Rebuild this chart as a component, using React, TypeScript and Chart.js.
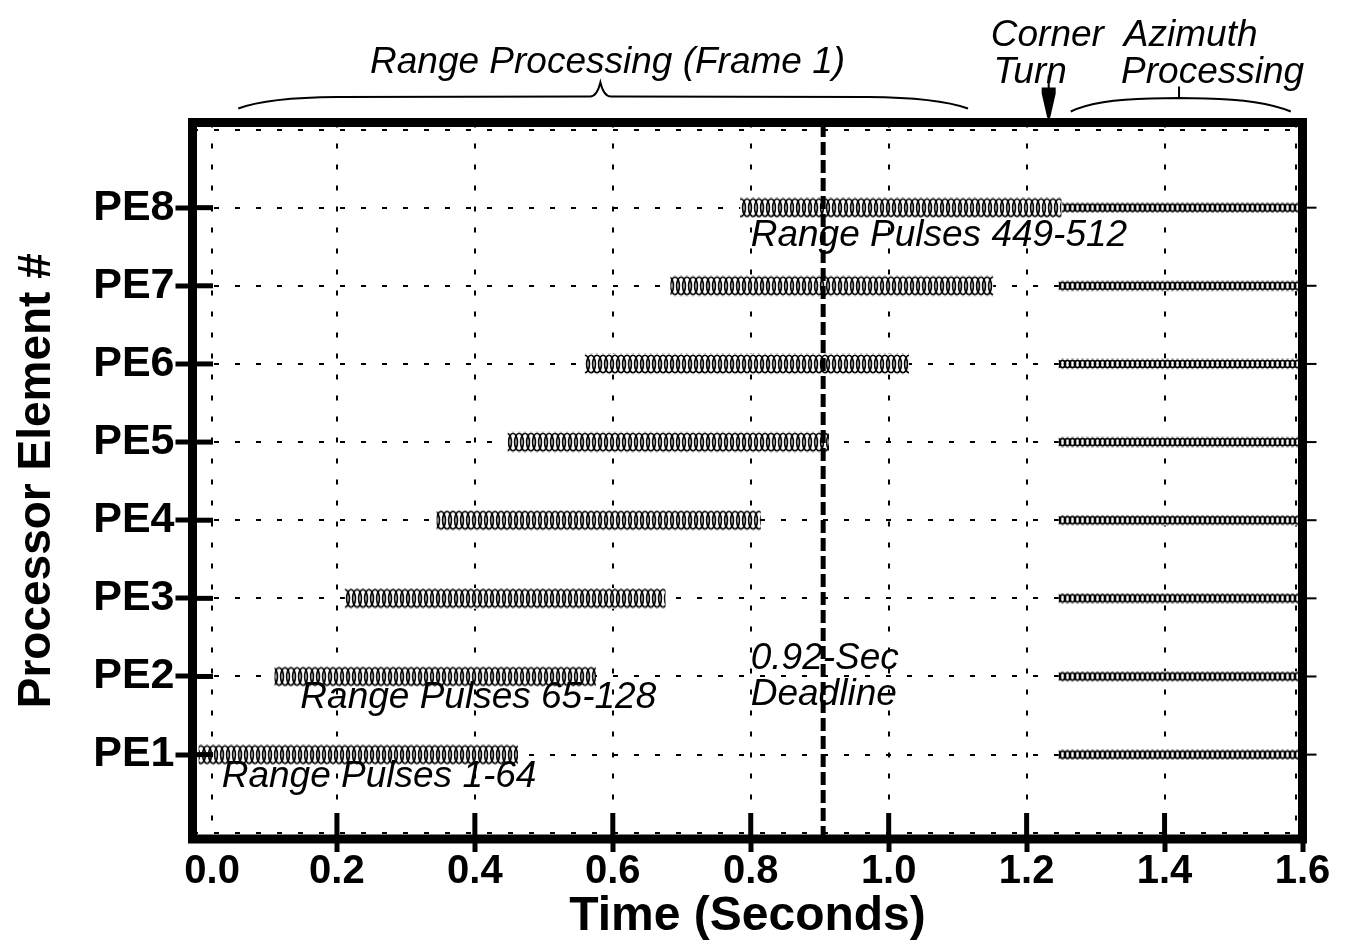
import React, { useEffect, useRef } from "react";
import { Chart, registerables } from "chart.js";

Chart.register(...registerables);

// ---------- data ----------
const PE_LABELS = ["PE1", "PE2", "PE3", "PE4", "PE5", "PE6", "PE7", "PE8"];
const PE_INDEX = [1, 2, 3, 4, 5, 6, 7, 8];
// range processing (pulses 1-64, 65-128, ... 449-512) start / end times (s)
const RANGE_START = [0.0, 0.11, 0.212, 0.345, 0.448, 0.56, 0.684, 0.785];
const RANGE_END = [0.462, 0.575, 0.676, 0.814, 0.913, 1.029, 1.151, 1.25];
// azimuth processing start / end times (s)
const AZ_START = [1.247, 1.247, 1.247, 1.247, 1.247, 1.247, 1.247, 1.252];
const AZ_END = [1.598, 1.598, 1.598, 1.598, 1.598, 1.598, 1.598, 1.598];
const DEADLINE = 0.905;

const X_MIN = -0.0094;
const X_MAX = 1.6;
const Y_MIN = -0.08;
const Y_MAX = 9.09;

const X_TICK_VALUES = [0.019, 0.2, 0.4, 0.6, 0.8, 1.0, 1.2, 1.4, 1.591, 1.6];
const X_TICK_LABELS = ["0.0", "0.2", "0.4", "0.6", "0.8", "1.0", "1.2", "1.4", "", "1.6"];
const X_TICK_MARK = [false, true, true, true, true, true, true, true, false, true];
const X_TICK_GRID = [true, true, true, true, true, true, true, true, true, false];

const Y_TICK_VALUES = [0, 1, 2, 3, 4, 5, 6, 7, 8, 9];
const Y_TICK_LABELS = ["", ...PE_LABELS, ""];
const Y_TICK_MARK = [false, true, true, true, true, true, true, true, true, false];

const FONT = "'Liberation Sans', Arial, Helvetica, sans-serif";
const ITALIC = `italic 37px ${FONT}`;

// ---------- patterns ----------
function makeRangeTile(): HTMLCanvasElement {
  const w = 18, h = 20;
  const c = document.createElement("canvas");
  c.width = w;
  c.height = h;
  const g = c.getContext("2d")!;
  g.fillStyle = "#fff";
  g.fillRect(0, 0, w, h);
  g.strokeStyle = "#000";
  g.lineWidth = 1.6;
  for (const cx of [3, 9, 15]) {
    for (const off of [-w, 0, w]) {
      g.beginPath();
      g.ellipse(cx + off, h / 2, 4.4, 8.8, 0, 0, Math.PI * 2);
      g.stroke();
    }
  }
  return c;
}

function makeAzTile(): HTMLCanvasElement {
  const w = 5, h = 10;
  const c = document.createElement("canvas");
  c.width = w;
  c.height = h;
  const g = c.getContext("2d")!;
  g.fillStyle = "#fff";
  g.fillRect(0, 0, w, h);
  g.strokeStyle = "#000";
  g.lineWidth = 1.9;
  for (const off of [-w, 0, w]) {
    g.beginPath();
    g.ellipse(2.5 + off, h / 2, 3, 3.6, 0, 0, Math.PI * 2);
    g.stroke();
  }
  return c;
}

const patternCache = new Map<string, CanvasPattern>();
function patternFor(ctx: any, kind: "range" | "az") {
  if (ctx.type !== "data" || !ctx.raw) return "#ffffff";
  const chart = ctx.chart;
  const yScale = chart.scales.y;
  const py = yScale.getPixelForValue(ctx.raw.y);
  const key = `${kind}-${ctx.dataIndex}-${Math.round(py * 10)}`;
  let p = patternCache.get(key);
  if (!p) {
    const tile = kind === "range" ? makeRangeTile() : makeAzTile();
    p = chart.ctx.createPattern(tile, "repeat")!;
    p.setTransform(new DOMMatrix([1, 0, 0, 1, 0, py - tile.height / 2]));
    patternCache.set(key, p);
  }
  return p;
}

// ---------- decoration plugin ----------
const decorPlugin = {
  id: "decor",
  afterDraw(chart: any) {
    const { ctx, chartArea } = chart;
    const { left, right, top, bottom } = chartArea;
    const xs = chart.scales.x;
    const ys = chart.scales.y;
    const px = (v: number) => xs.getPixelForValue(v);
    const py = (v: number) => ys.getPixelForValue(v);
    ctx.save();
    ctx.fillStyle = "#000";
    ctx.strokeStyle = "#000";

    // inner tick marks
    X_TICK_VALUES.forEach((v, i) => {
      if (X_TICK_MARK[i] && v < 1.59) ctx.fillRect(px(v) - 2.5, bottom - 26, 5, 26);
    });
    Y_TICK_VALUES.forEach((v, i) => {
      if (Y_TICK_MARK[i]) {
        ctx.fillRect(left, py(v) - 2.5, 20.5, 5);
        ctx.fillRect(right, py(v) - 1, 14, 2);
      }
    });

    // frame
    ctx.lineWidth = 9;
    ctx.lineJoin = "miter";
    ctx.strokeRect(left, top, right - left, bottom - top);

    // braces
    ctx.lineWidth = 2;
    ctx.beginPath();
    ctx.moveTo(px(0.057), top - 14);
    ctx.quadraticCurveTo(px(0.1), top - 25, px(0.2), top - 25.5);
    ctx.lineTo(px(0.567), top - 26);
    ctx.quadraticCurveTo(px(0.577), top - 26, px(0.582), top - 40);
    ctx.quadraticCurveTo(px(0.587), top - 26, px(0.597), top - 26);
    ctx.lineTo(px(0.97), top - 25.5);
    ctx.quadraticCurveTo(px(1.07), top - 25, px(1.115), top - 14);
    ctx.stroke();

    ctx.beginPath();
    ctx.moveTo(px(1.264), top - 11);
    ctx.quadraticCurveTo(px(1.3), top - 23, px(1.38), top - 24);
    ctx.lineTo(px(1.421), top - 24.5);
    ctx.lineTo(px(1.46), top - 24);
    ctx.quadraticCurveTo(px(1.54), top - 23, px(1.583), top - 11);
    ctx.stroke();
    ctx.beginPath();
    ctx.moveTo(px(1.421), top - 24.5);
    ctx.lineTo(px(1.421), top - 36);
    ctx.stroke();

    // corner turn arrow
    const ax = px(1.232);
    ctx.beginPath();
    ctx.moveTo(ax, top - 47);
    ctx.lineTo(ax, top - 4);
    ctx.stroke();
    ctx.beginPath();
    ctx.moveTo(ax - 7, top - 35);
    ctx.lineTo(ax + 7, top - 35);
    ctx.lineTo(ax + 7, top - 29);
    ctx.lineTo(ax + 1.5, top - 5);
    ctx.lineTo(ax - 1.5, top - 5);
    ctx.lineTo(ax - 7, top - 29);
    ctx.closePath();
    ctx.fill();

    // annotations
    ctx.font = ITALIC;
    ctx.textAlign = "left";
    ctx.textBaseline = "alphabetic";
    ctx.fillText("Range Processing (Frame 1)", px(0.248), top - 49.5);
    ctx.fillText("Corner", px(1.148), top - 76.5);
    ctx.fillText("Turn", px(1.152), top - 39.5);
    ctx.fillText("Azimuth", px(1.341), top - 76.5);
    ctx.fillText("Processing", px(1.337), top - 39.5);

    ctx.fillText("Range Pulses 449-512", px(0.8), py(7.51));
    ctx.fillText("Range Pulses 65-128", px(0.147), py(1.6));
    ctx.fillText("Range Pulses 1-64", px(0.033), py(0.59));
    ctx.fillText("0.92-Sec", px(0.8), py(2.09));
    ctx.fillText("Deadline", px(0.8), py(1.64));
    ctx.restore();
  },
};

export default function App() {
  const ref = useRef<HTMLCanvasElement | null>(null);

  useEffect(() => {
    document.body.style.margin = "0";
    if (!ref.current) return;

    const rangeData = PE_INDEX.map((y, i) => ({ x: [RANGE_START[i], RANGE_END[i]], y }));
    const azData = PE_INDEX.map((y, i) => ({ x: [AZ_START[i], AZ_END[i]], y }));

    const chart = new Chart(ref.current, {
      type: "bar",
      data: {
        datasets: [
          {
            type: "line",
            data: [
              { x: DEADLINE, y: Y_MIN },
              { x: DEADLINE, y: Y_MAX },
            ],
            borderColor: "#000",
            borderWidth: 5,
            borderDash: [13, 5],
            borderCapStyle: "butt",
            pointRadius: 0,
            fill: false,
            order: 0,
          } as any,
          {
            type: "bar",
            data: rangeData as any,
            barThickness: 20,
            grouped: false,
            borderWidth: 0,
            backgroundColor: (c: any) => patternFor(c, "range"),
            order: 2,
          } as any,
          {
            type: "bar",
            data: azData as any,
            barThickness: 10,
            grouped: false,
            borderWidth: 0,
            backgroundColor: (c: any) => patternFor(c, "az"),
            order: 2,
          } as any,
        ],
      },
      options: {
        responsive: false,
        animation: false,
        indexAxis: "y",
        layout: { padding: { left: 0, top: 122.5, right: 43.5, bottom: 0 } },
        plugins: {
          legend: { display: false },
          tooltip: { enabled: false },
        },
        events: [],
        scales: {
          x: {
            type: "linear",
            position: "bottom",
            min: X_MIN,
            max: X_MAX,
            offset: false,
            afterFit: (s: any) => {
              s.height = 105;
            },
            afterBuildTicks: (s: any) => {
              s.ticks = X_TICK_VALUES.map((v) => ({ value: v }));
            },
            ticks: {
              autoSkip: false,
              maxRotation: 0,
              minRotation: 0,
              padding: 0,
              color: "#000",
              font: { family: FONT, weight: "bold", size: 40, lineHeight: 1 },
              callback: (_v: any, i: number) => X_TICK_LABELS[i],
            },
            grid: {
              offset: false,
              color: (c: any) => (X_TICK_GRID[c.index] ? "#000" : "rgba(0,0,0,0)"),
              lineWidth: 2,
              drawTicks: true,
              tickLength: 13,
              tickWidth: 5,
              tickColor: (c: any) => (X_TICK_MARK[c.index] ? "#000" : "rgba(0,0,0,0)"),
            },
            border: { display: false, dash: [5, 16] },
            title: {
              display: true,
              text: "Time (Seconds)",
              color: "#000",
              font: { family: FONT, weight: "bold", size: 48, lineHeight: 1 },
              padding: { top: 0, bottom: 3 },
            },
          },
          y: {
            type: "linear",
            position: "left",
            min: Y_MIN,
            max: Y_MAX,
            offset: false,
            afterFit: (s: any) => {
              s.width = 192.5;
            },
            afterBuildTicks: (s: any) => {
              s.ticks = Y_TICK_VALUES.map((v) => ({ value: v }));
            },
            ticks: {
              autoSkip: false,
              padding: 1,
              color: "#000",
              font: { family: FONT, weight: "bold", size: 43, lineHeight: 1 },
              callback: (_v: any, i: number) => Y_TICK_LABELS[i],
            },
            grid: {
              offset: false,
              color: "#000",
              lineWidth: 2,
              drawTicks: true,
              tickLength: 17,
              tickWidth: 5,
              tickColor: (c: any) => (Y_TICK_MARK[c.index] ? "#000" : "rgba(0,0,0,0)"),
            },
            border: { display: false, dash: [5, 16] },
            title: {
              display: true,
              text: "Processor Element #",
              color: "#000",
              font: { family: FONT, weight: "bold", size: 46, lineHeight: 1 },
              padding: { top: 14, bottom: 0 },
            },
          },
        },
      } as any,
      plugins: [decorPlugin],
    });

    return () => {
      chart.destroy();
    };
  }, []);

  return (
    <div style={{ width: 1346, height: 944, background: "#fff" }}>
      <canvas ref={ref} width={1346} height={944} style={{ display: "block" }} />
    </div>
  );
}
